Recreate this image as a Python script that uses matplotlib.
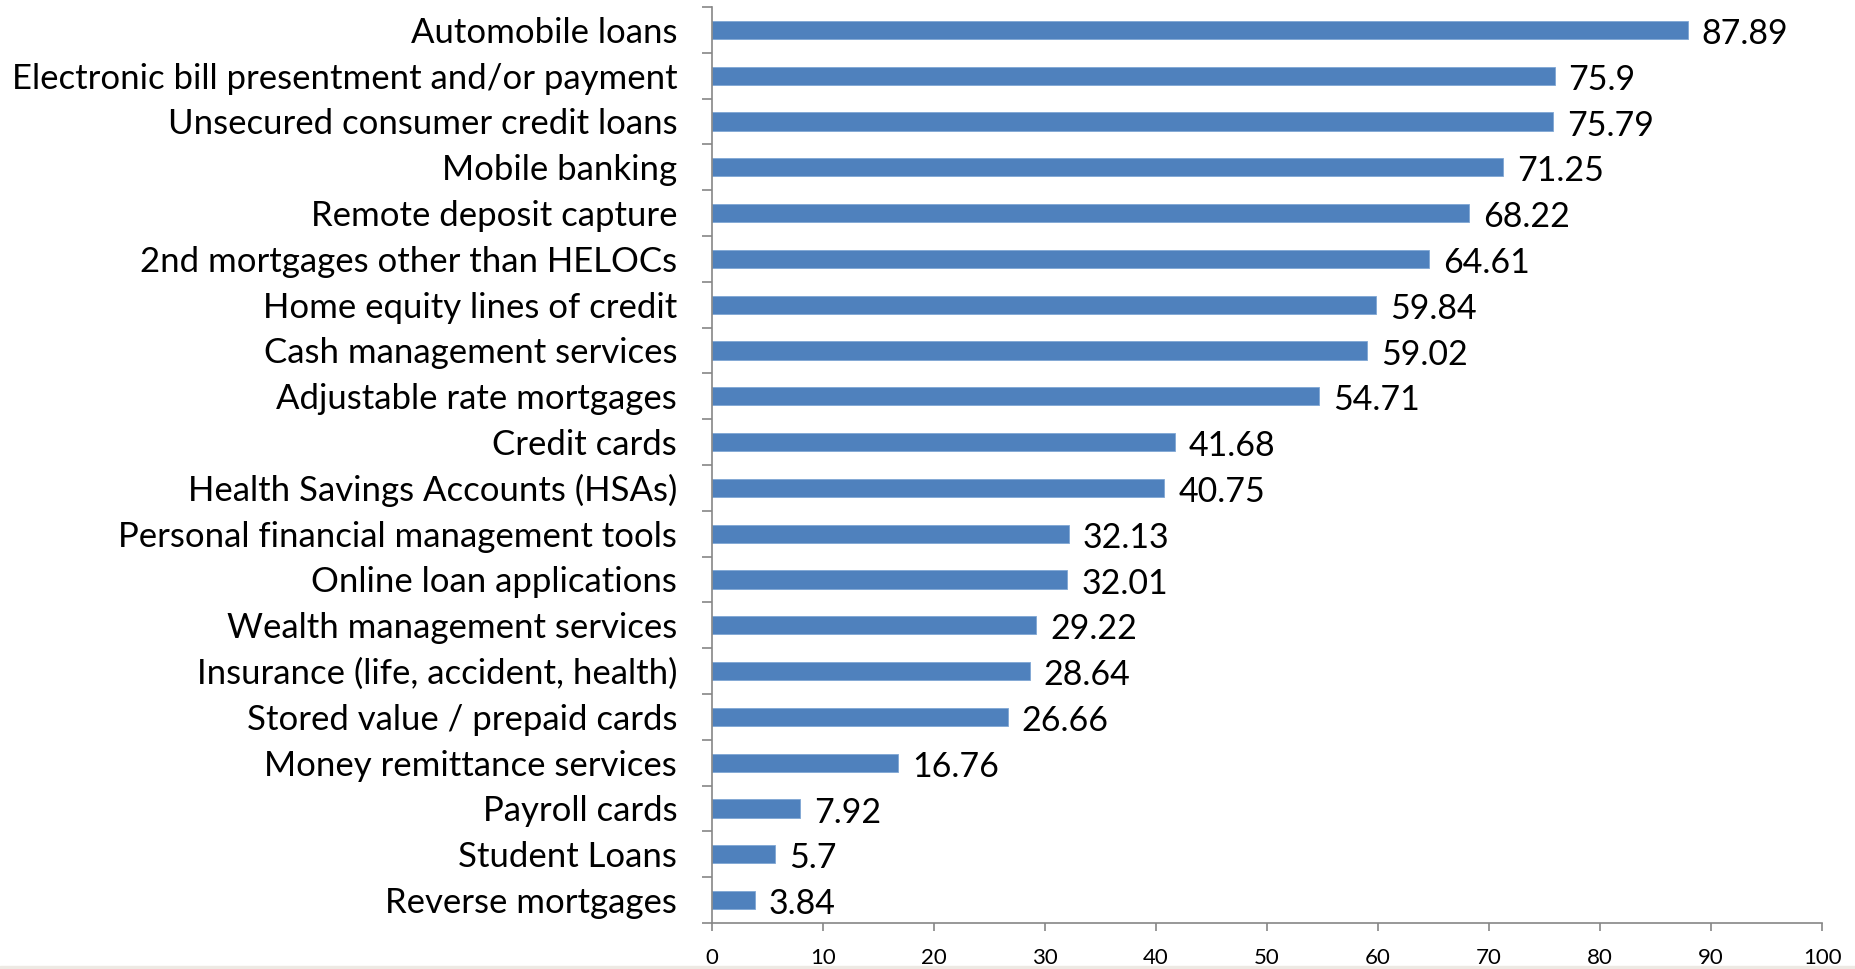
import numpy as np
import matplotlib.pyplot as plt
from matplotlib.patches import Rectangle

plt.rcParams['font.family'] = ['Lato', 'DejaVu Sans']

services = [
    "Automobile loans",
    "Electronic bill presentment and/or payment",
    "Unsecured consumer credit loans",
    "Mobile banking",
    "Remote deposit capture",
    "2nd mortgages other than HELOCs",
    "Home equity lines of credit",
    "Cash management services",
    "Adjustable rate mortgages",
    "Credit cards",
    "Health Savings Accounts (HSAs)",
    "Personal financial management tools",
    "Online loan applications",
    "Wealth management services",
    "Insurance (life, accident, health)",
    "Stored value / prepaid cards",
    "Money remittance services",
    "Payroll cards",
    "Student Loans",
    "Reverse mortgages",
]
values = [87.89, 75.9, 75.79, 71.25, 68.22, 64.61, 59.84, 59.02, 54.71, 41.68,
          40.75, 32.13, 32.01, 29.22, 28.64, 26.66, 16.76, 7.92, 5.7, 3.84]
value_labels = ["87.89", "75.9", "75.79", "71.25", "68.22", "64.61", "59.84", "59.02",
                "54.71", "41.68", "40.75", "32.13", "32.01", "29.22", "28.64", "26.66",
                "16.76", "7.92", "5.7", "3.84"]
xticks = [0, 10, 20, 30, 40, 50, 60, 70, 80, 90, 100]

n = len(services)
ypos = np.arange(n)

fig = plt.figure(figsize=(18.56, 9.69), dpi=100)
ax = fig.add_axes([0.3836, 0.0475, 0.5981, 0.9453])

ax.barh(ypos, values, height=0.4, color='#4F81BD', edgecolor='#7FA6D4', linewidth=0.6)

for y, v, lab in zip(ypos, values, value_labels):
    ax.annotate(lab, (v, y), xytext=(10, -3), textcoords='offset points',
                ha='left', va='center', fontsize=24.5, color='black')

ax.set_xlim(0, 100)
ax.set_ylim(n - 0.5, -0.5)
ax.set_xticks(xticks)
ax.set_xticklabels([str(t) for t in xticks], fontsize=16)

# category labels centred on bars, ticks on the boundaries between them
ax.set_yticks(ypos)
ax.set_yticklabels(services, fontsize=25)
ax.set_yticks(np.arange(-0.5, n, 1), minor=True)
ax.tick_params(axis='y', which='major', length=0, pad=25)
ax.tick_params(axis='y', which='minor', length=7, width=1.2, color='#868686', direction='out')
ax.tick_params(axis='x', which='major', length=6, width=1.2, color='#868686', direction='out', pad=12)

for side in ['top', 'right']:
    ax.spines[side].set_visible(False)
for side in ['left', 'bottom']:
    ax.spines[side].set_color('#868686')
    ax.spines[side].set_linewidth(1.2)

# thin strip along the bottom edge
fig.patches.append(Rectangle((0, 0), 1, 3.5 / 969, transform=fig.transFigure,
                             color='#EDE9E3', zorder=0))

fig.savefig('out.png', dpi=100)
